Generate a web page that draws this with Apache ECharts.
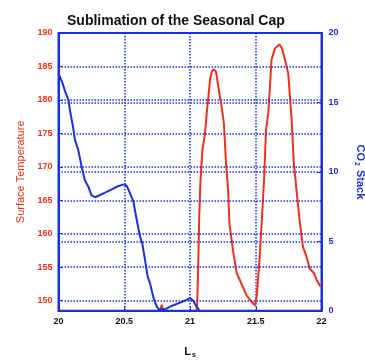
<!DOCTYPE html>
<html>
<head>
<meta charset="utf-8">
<script src="https://cdn.jsdelivr.net/npm/echarts@6/dist/echarts.min.js"></script>
<style>
  html, body { margin: 0; padding: 0; background: #fff; }
  #main { width: 365px; height: 360px; }
</style>
</head>
<body>
<div id="main"></div>
<script>
// CO2 stack (right axis), [Ls, value]
var co2Stack = [
  [20.0, 17.1], [20.03, 16.4], [20.05, 15.8], [20.075, 15.2], [20.087, 14.45],
  [20.11, 13.25], [20.125, 12.3], [20.15, 11.57], [20.176, 10.37], [20.2, 9.41],
  [20.227, 8.93], [20.25, 8.33], [20.278, 8.17], [20.3, 8.26], [20.354, 8.5],
  [20.405, 8.74], [20.455, 8.98], [20.5, 9.1], [20.52, 8.98], [20.544, 8.45],
  [20.57, 7.85], [20.595, 6.53], [20.62, 5.33], [20.637, 4.85], [20.658, 3.65],
  [20.678, 2.45], [20.696, 1.97], [20.72, 1.0], [20.747, 0.29], [20.764, 0.1],
  [20.81, 0.1], [20.86, 0.34], [20.91, 0.53], [20.96, 0.72], [21.0, 0.91],
  [21.025, 0.72], [21.05, 0.29], [21.07, 0.05]
];

// surface temperature (left axis), [Ls, value]
var surfTemp = [
  [20.775, 148.6], [20.785, 149.4], [20.795, 148.6], [20.9, null],
  [21.05, 148.6], [21.055, 149.6], [21.063, 155.6], [21.07, 162.5], [21.08, 168.0],
  [21.094, 172.5], [21.114, 175.0], [21.127, 178.0], [21.14, 180.5], [21.152, 183.0],
  [21.165, 184.2], [21.18, 184.6], [21.198, 184.2], [21.215, 182.0], [21.24, 179.0],
  [21.258, 176.5], [21.274, 170.5], [21.29, 166.5], [21.30, 161.5], [21.33, 157.1],
  [21.355, 154.1], [21.39, 152.6], [21.43, 150.8], [21.47, 149.8], [21.494, 149.3],
  [21.507, 150.6], [21.527, 155.6], [21.545, 161.5], [21.563, 168.0], [21.578, 175.5],
  [21.595, 178.0], [21.608, 182.0], [21.62, 186.0], [21.646, 187.7], [21.68, 188.3],
  [21.70, 187.7], [21.722, 186.0], [21.747, 184.0], [21.773, 177.0], [21.79, 170.5],
  [21.81, 166.5], [21.836, 161.5], [21.86, 158.0], [21.887, 156.5], [21.91, 154.8],
  [21.943, 154.1], [21.963, 153.1], [21.994, 152.1]
];

var tempTicks = [150, 155, 160, 165, 170, 175, 180, 185, 190];
var tempGrid = [150, 155, 160, 165, 170, 175, 180, 185];

var RED = '#f03018';
var BLUE = '#1a30e0';
var FONT = 'Liberation Sans, Arial, sans-serif';

var myChart = echarts.init(document.getElementById('main'));

var option = {
  animation: false,
  backgroundColor: '#fff',
  title: {
    text: 'Sublimation of the Seasonal Cap',
    left: 62,
    top: 9,
    textStyle: { fontFamily: FONT, fontSize: 14, fontWeight: 'bold', color: '#111' }
  },
  grid: {
    left: 58.5, right: 43.5, top: 33, bottom: 49.3,
    containLabel: false,
    outerBoundsMode: 'none',
    show: true, borderColor: BLUE, borderWidth: 2
  },
  xAxis: {
    type: 'value',
    min: 20, max: 22, interval: 0.5,
    name: '{a|L}{s|s}',
    nameLocation: 'middle',
    nameGap: 34,
    nameTextStyle: {
      rich: {
        a: { fontFamily: FONT, fontSize: 11, fontWeight: 'bold', color: '#111', lineHeight: 14 },
        s: { fontFamily: FONT, fontSize: 7, fontWeight: 'bold', color: '#111', verticalAlign: 'bottom', lineHeight: 14, padding: [8, 0, 0, 1] }
      }
    },
    axisLine: { lineStyle: { color: BLUE, width: 2 } },
    axisTick: { inside: true, length: 4, lineStyle: { color: BLUE } },
    axisLabel: { fontFamily: FONT, fontSize: 9, fontWeight: 'bold', color: '#111', margin: 6,
      formatter: function (v) { return String(v); } },
    splitLine: { show: true, lineStyle: { color: BLUE, type: 'dotted', width: 1.5 } }
  },
  yAxis: [{
    type: 'value',
    min: 148.5, max: 190,
    position: 'left',
    name: 'Surface Temperature',
    nameLocation: 'middle',
    nameGap: 31,
    nameTextStyle: { fontFamily: FONT, fontSize: 11, color: RED },
    axisLine: { show: true, lineStyle: { color: BLUE, width: 2 } },
    axisTick: { show: true, inside: true, length: 4, customValues: tempTicks, lineStyle: { color: BLUE } },
    axisLabel: { fontFamily: FONT, fontSize: 9, fontWeight: 'bold', color: RED, margin: 6, customValues: tempTicks },
    splitLine: { show: false }
  }, {
    type: 'value',
    min: 0, max: 20, interval: 5,
    position: 'right',
    name: '{a|CO}{s|2}{a| Stack}',
    nameLocation: 'middle',
    nameGap: 32,
    nameRotate: -90,
    nameTextStyle: {
      rich: {
        a: { fontFamily: FONT, fontSize: 11, fontWeight: 'bold', color: BLUE, lineHeight: 14 },
        s: { fontFamily: FONT, fontSize: 7, fontWeight: 'bold', color: BLUE, verticalAlign: 'bottom', lineHeight: 14, padding: [10, 1, 0, 1] }
      }
    },
    axisLine: { show: true, lineStyle: { color: BLUE, width: 2 } },
    axisTick: { show: true, inside: true, length: 4, lineStyle: { color: BLUE } },
    axisLabel: { fontFamily: FONT, fontSize: 9, fontWeight: 'bold', color: BLUE, margin: 7 },
    splitLine: { show: true, lineStyle: { color: BLUE, type: 'dotted', width: 1.5 } }
  }],
  series: [{
    name: 'Surface Temperature',
    type: 'line',
    yAxisIndex: 0,
    data: surfTemp,
    showSymbol: false,
    connectNulls: false,
    lineStyle: { color: RED, width: 2 },
    itemStyle: { color: RED },
    markLine: {
      silent: true,
      symbol: 'none',
      label: { show: false },
      lineStyle: { color: BLUE, type: 'dotted', width: 1.5 },
      data: tempGrid.map(function (v) { return { yAxis: v }; })
    },
    z: 3
  }, {
    name: 'CO2 Stack',
    type: 'line',
    yAxisIndex: 1,
    data: co2Stack,
    showSymbol: false,
    lineStyle: { color: BLUE, width: 2 },
    itemStyle: { color: BLUE },
    z: 3
  }]
};

myChart.setOption(option);
</script>
</body>
</html>
